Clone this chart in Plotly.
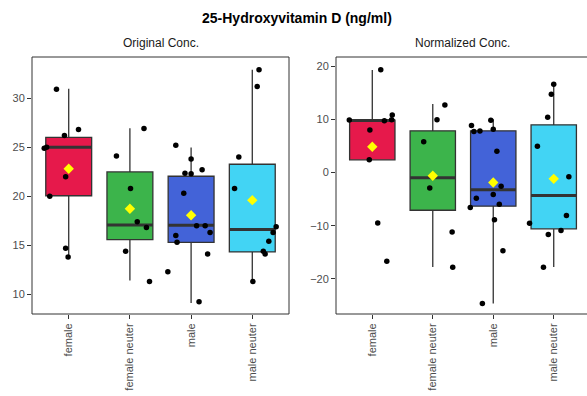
import plotly.graph_objects as go

categories = ["female", "female neuter", "male", "male neuter"]
colors = ["#e6194B", "#3cb44b", "#4363d8", "#42d4f4"]

# ---------------- Original Conc. ----------------
orig_points = [
    [30.9, 26.2, 26.8, 24.9, 25.0, 22.0, 20.0, 14.7, 13.8],
    [24.1, 26.9, 20.8, 17.4, 16.8, 14.4, 11.3],
    [25.2, 23.8, 22.35, 22.3, 22.7, 20.3, 17.0, 17.0, 16.3, 16.0, 15.3, 14.1, 12.3, 9.25],
    [32.9, 31.2, 24.0, 20.8, 16.9, 16.3, 15.4, 14.4, 14.1, 11.3],
]
orig_jitter = [
    [-0.20, -0.07, 0.16, -0.40, -0.36, -0.05, -0.31, -0.05, -0.01],
    [-0.22, 0.23, 0.01, 0.12, 0.27, -0.07, 0.32],
    [-0.25, 0.00, -0.10, 0.00, 0.18, -0.12, 0.09, 0.23, 0.31, -0.25, -0.23, 0.27, -0.38, 0.13],
    [0.11, 0.08, -0.22, -0.29, 0.39, 0.34, 0.27, 0.18, 0.21, 0.01],
]
orig_q1 = [20.05, 15.57, 15.3, 14.32]
orig_median = [25.0, 17.07, 17.04, 16.6]
orig_q3 = [26.0, 22.48, 22.04, 23.26]
orig_low = [13.8, 11.4, 9.1, 11.33]
orig_high = [30.95, 26.94, 24.96, 32.9]
orig_mean = [22.8, 18.73, 18.06, 19.6]

# ---------------- Normalized Conc. ----------------
norm_points = [
    [19.3, 9.84, 8.0, 9.7, 10.8, 9.9, 2.37, -9.5, -16.7],
    [12.7, 9.9, 5.76, -2.9, -11.2, -17.8],
    [8.84, 7.7, 7.8, 9.8, 8.1, 4.0, -2.58, -4.84, -4.14, -5.96, -6.6, -8.9, -14.7, -24.65],
    [16.6, 14.7, 10.4, 4.95, -0.82, -8.1, -9.54, -10.9, -11.67, -17.8],
]
norm_jitter = [
    [0.14, -0.38, -0.04, 0.20, 0.33, 0.32, -0.05, 0.09, 0.24],
    [0.20, 0.07, -0.15, -0.05, 0.32, 0.33],
    [-0.36, -0.32, -0.22, -0.04, 0.00, 0.06, 0.13, -0.28, 0.00, 0.10, -0.38, 0.02, 0.16, -0.18],
    [0.00, -0.04, -0.10, -0.27, 0.25, 0.21, -0.40, 0.12, -0.09, -0.17],
]
norm_q1 = [2.37, -7.1, -6.34, -10.6]
norm_median = [9.75, -1.0, -3.27, -4.33]
norm_q3 = [9.85, 7.83, 7.83, 8.96]
norm_low = [2.37, -17.76, -24.65, -17.76]
norm_high = [19.25, 12.85, 10.0, 16.75]
norm_mean = [4.82, -0.63, -1.88, -1.2]

BOX_W = 0.75
LINE_C = "#333333"

fig = go.Figure()


def add_panel(xa, ya, points, jitter, q1, med, q3, low, high, mean):
    for i, cat in enumerate(categories):
        fig.add_trace(go.Box(
            x=[i], q1=[q1[i]], median=[med[i]], q3=[q3[i]],
            lowerfence=[low[i]], upperfence=[high[i]],
            width=BOX_W, fillcolor=colors[i],
            line=dict(color=LINE_C, width=1.3), whiskerwidth=0,
            boxpoints=False, xaxis=xa, yaxis=ya, showlegend=False,
            hoverinfo="skip",
        ))
        fig.add_trace(go.Scatter(
            x=[i - BOX_W / 2, i + BOX_W / 2], y=[med[i], med[i]],
            mode="lines", line=dict(color=LINE_C, width=3),
            xaxis=xa, yaxis=ya, showlegend=False, hoverinfo="skip",
        ))
        fig.add_trace(go.Scatter(
            x=[i + j for j in jitter[i]], y=points[i], mode="markers",
            marker=dict(color="black", size=5.5),
            xaxis=xa, yaxis=ya, showlegend=False,
        ))
        fig.add_trace(go.Scatter(
            x=[i], y=[mean[i]], mode="markers",
            marker=dict(color="#FFFF00", size=8, symbol="diamond"),
            xaxis=xa, yaxis=ya, showlegend=False,
        ))


add_panel("x", "y", orig_points, orig_jitter, orig_q1, orig_median, orig_q3,
          orig_low, orig_high, orig_mean)
add_panel("x2", "y2", norm_points, norm_jitter, norm_q1, norm_median, norm_q3,
          norm_low, norm_high, norm_mean)

W, H = 587, 396
left_dom = [32 / W, 289 / W]
right_dom = [336 / W, 1.0]
y_dom = [(H - 314) / H, (H - 57) / H]

tickfont = dict(family="Liberation Sans, Arial, sans-serif", size=11, color="#4D4D4D")
xcommon = dict(tickmode="array", tickvals=[0, 1, 2, 3], ticktext=categories,
               tickangle=-90, ticks="outside", ticklen=4, tickcolor=LINE_C,
               showgrid=False, zeroline=False, showline=False, tickfont=tickfont)
ycommon = dict(ticks="outside", ticklen=4, tickcolor=LINE_C, showgrid=False,
               zeroline=False, showline=False, tickfont=tickfont, domain=y_dom)

fig.update_layout(
    width=W, height=H, margin=dict(l=0, r=0, t=0, b=0),
    paper_bgcolor="white", plot_bgcolor="white", showlegend=False,
    font=dict(family="Liberation Sans, Arial, sans-serif"),
    xaxis=dict(domain=left_dom, range=[-0.6, 3.6], anchor="y", **xcommon),
    yaxis=dict(range=[7.99, 34.2], tickvals=[10, 15, 20, 25, 30], anchor="x", **ycommon),
    xaxis2=dict(domain=right_dom, range=[-0.6, 3.55], anchor="y2", **xcommon),
    yaxis2=dict(range=[-26.6, 21.7], tickvals=[-20, -10, 0, 10, 20], anchor="x2", **ycommon),
    shapes=[
        dict(type="rect", xref="paper", yref="paper", x0=left_dom[0], x1=left_dom[1],
             y0=y_dom[0], y1=y_dom[1], line=dict(color=LINE_C, width=1)),
        dict(type="rect", xref="paper", yref="paper", x0=right_dom[0], x1=1.01,
             y0=y_dom[0], y1=y_dom[1], line=dict(color=LINE_C, width=1)),
    ],
    annotations=[
        dict(text="<b>25-Hydroxyvitamin D (ng/ml)</b>", x=297 / W, y=1 - 18 / H,
             xref="paper", yref="paper", showarrow=False,
             font=dict(size=14, color="black"), xanchor="center", yanchor="middle"),
        dict(text="Original Conc.", x=160.5 / W, y=1 - 43 / H, xref="paper", yref="paper",
             showarrow=False, font=dict(size=12, color="#1A1A1A"),
             xanchor="center", yanchor="middle"),
        dict(text="Normalized Conc.", x=463 / W, y=1 - 43 / H, xref="paper", yref="paper",
             showarrow=False, font=dict(size=12, color="#1A1A1A"),
             xanchor="center", yanchor="middle"),
    ],
)

fig.write_html("out.html")
